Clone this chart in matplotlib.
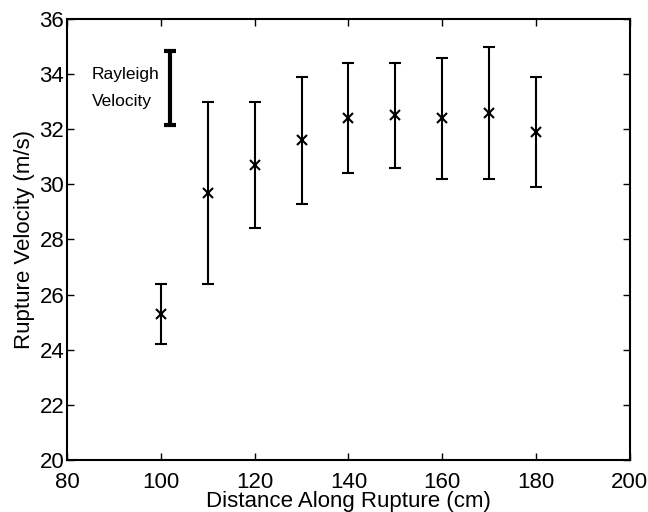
import numpy as np
import matplotlib.pyplot as plt

plt.rcParams['font.family'] = ['Liberation Sans', 'DejaVu Sans']

# distancia ao longo da ruptura (cm) e velocidade media (m/s)
distance = [100, 110, 120, 130, 140, 150, 160, 170, 180]
velocity = [25.3, 29.7, 30.7, 31.6, 32.4, 32.5, 32.4, 32.6, 31.9]
vel_low = [24.2, 26.4, 28.4, 29.3, 30.4, 30.6, 30.2, 30.2, 29.9]
vel_high = [26.4, 33.0, 33.0, 33.9, 34.4, 34.4, 34.6, 35.0, 33.9]

# faixa da velocidade de Rayleigh
rayleigh_x = 102
rayleigh_low = 32.15
rayleigh_high = 34.85

velocity = np.array(velocity)
yerr = [velocity - np.array(vel_low), np.array(vel_high) - velocity]

fig = plt.figure(figsize=(6.48, 5.12), dpi=100)
ax = fig.add_axes([0.1034, 0.1016, 0.8686, 0.8613])

ax.errorbar(distance, velocity, yerr=yerr, fmt='x', color='black',
            markersize=7, markeredgewidth=1.5, elinewidth=1.5,
            capsize=4, capthick=1.5)

# barra grossa da velocidade de Rayleigh
ax.errorbar([rayleigh_x], [(rayleigh_low + rayleigh_high) / 2],
            yerr=[[(rayleigh_high - rayleigh_low) / 2]], fmt='none',
            ecolor='black', elinewidth=3, capsize=4, capthick=3)
ax.text(85.3, 34.0, 'Rayleigh', fontsize=12.5, va='center', ha='left')
ax.text(85.3, 33.0, 'Velocity', fontsize=12.5, va='center', ha='left')

ax.set_xlim(80, 200)
ax.set_ylim(20, 36)
ax.set_xticks(np.arange(80, 201, 20))
ax.set_yticks(np.arange(20, 37, 2))
ax.tick_params(direction='in', top=True, right=True, labelsize=16,
               length=5, width=1)
ax.tick_params(axis='x', pad=8.5)
ax.tick_params(axis='y', pad=2)
for s in ax.spines.values():
    s.set_linewidth(1.5)

ax.set_xlabel('Distance Along Rupture (cm)', fontsize=16, labelpad=-1)
ax.set_ylabel('Rupture Velocity (m/s)', fontsize=16, labelpad=3)

fig.savefig('out.png', dpi=100)
